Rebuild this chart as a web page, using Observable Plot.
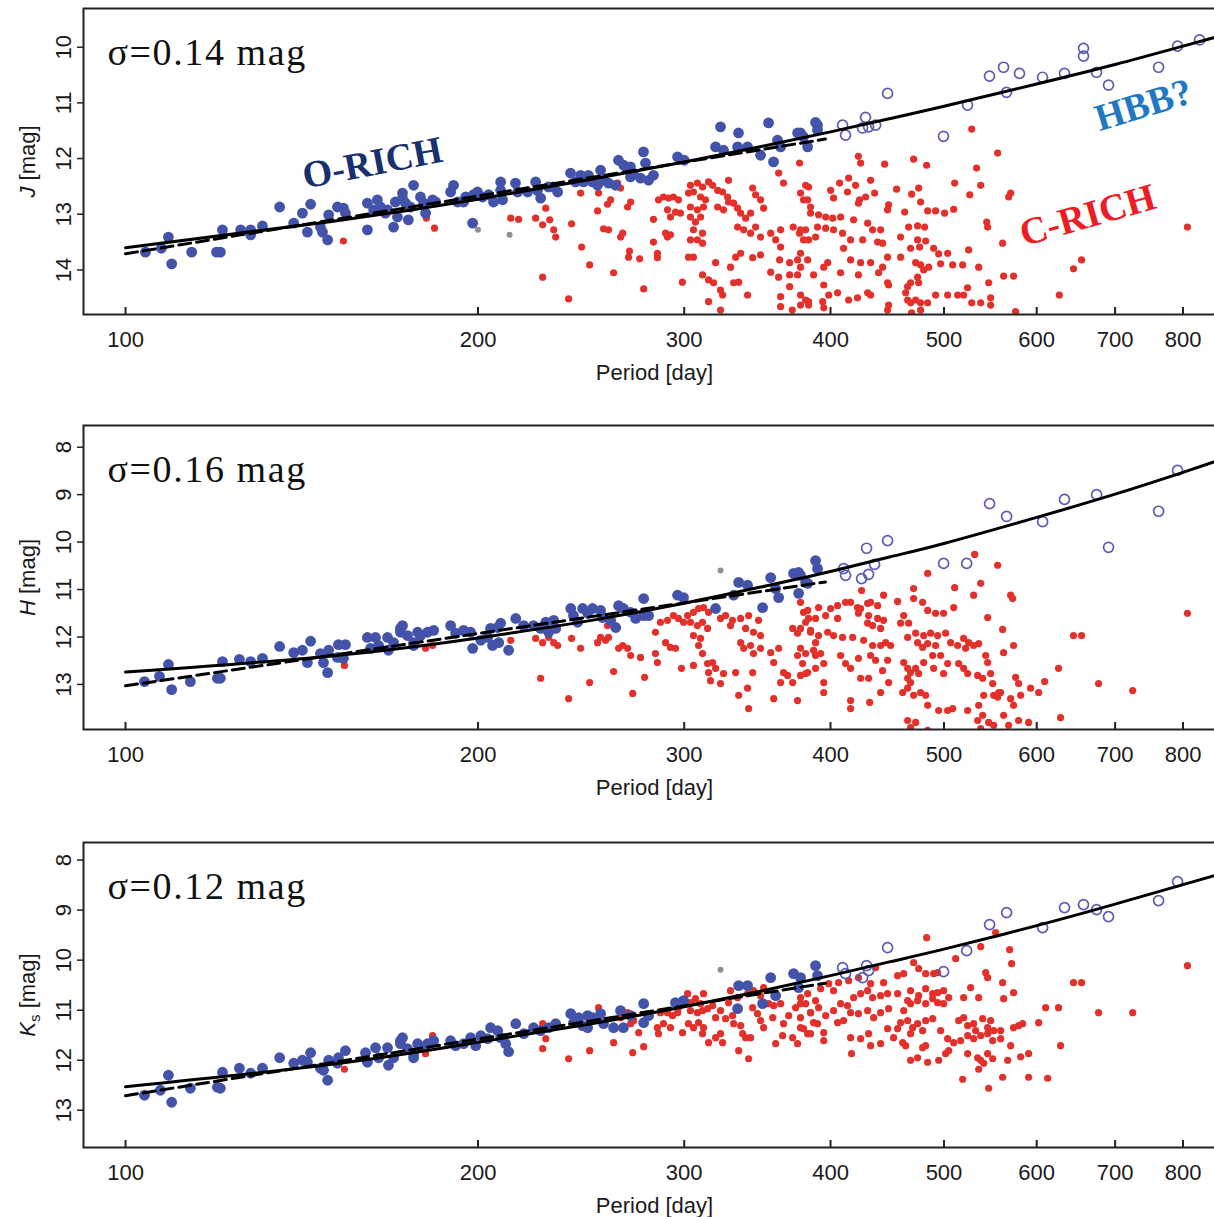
<!DOCTYPE html>
<html>
<head>
<meta charset="utf-8">
<script src="https://cdn.jsdelivr.net/npm/d3@7"></script>
<script src="https://cdn.jsdelivr.net/npm/@observablehq/plot@0.6"></script>
<style>
  html, body { margin: 0; padding: 0; background: #fff; overflow: hidden; }
  svg { display: block; max-width: none !important; }
</style>
</head>
<body>
<div id="chart"></div>
<script>
// ---------- axis / label data ----------
const xTicks = [100, 200, 300, 400, 500, 600, 700, 800];
const jTicks = [10, 11, 12, 13, 14];
const hTicks = [8, 9, 10, 11, 12, 13];
const kTicks = [8, 9, 10, 11, 12, 13];
const xLabel = "Period [day]";
const yLabels = ["J [mag]", "H [mag]", "Ks [mag]"];
const sigmaLabels = ["σ=0.14 mag", "σ=0.16 mag", "σ=0.12 mag"];

// annotations (panel J)
const noteText = ["O-RICH", "HBB?", "C-RICH"];
const notePeriod = [162.5, 740, 663];
const noteMag = [12.08, 11.04, 13.02];
const noteColor = ["#17306e", "#1f78c4", "#ee1c25"];
const noteAngle = [-11, -17, -16];

// fit curves
const fitPeriods = [100, 150, 200, 250, 300, 350, 400, 450, 500, 600, 700, 800, 860];
const fitJ = [13.60, 13.13, 12.73, 12.37, 12.06, 11.78, 11.52, 11.28, 11.06, 10.66, 10.31, 9.98, 9.80];
const fitH = [12.74, 12.40, 12.02, 11.65, 11.29, 10.94, 10.62, 10.31, 10.03, 9.48, 8.99, 8.53, 8.27];
const fitK = [12.53, 12.08, 11.64, 11.27, 10.93, 10.61, 10.31, 10.03, 9.78, 9.31, 8.88, 8.49, 8.28];
const dashPeriods = [100, 396];
const dashJ = [13.71, 11.65];
const dashH = [13.03, 10.84];
const dashK = [12.71, 10.46];

// ---------- J band ----------
const oRichJ = [[104.0,13.68],[107.3,13.61],[108.8,13.41],[109.5,13.89],[113.9,13.68],[119.6,13.68],[120.5,13.68],[121.0,13.28],[125.4,13.28],[127.9,13.28],[127.9,13.37],[130.9,13.21],[135.4,12.87],[139.2,13.16],[141.6,12.98],[143.9,12.82],[143.0,13.32],[146.7,13.23],[147.3,13.32],[148.8,13.46],[149.1,13.01],[151.7,12.87],[153.5,12.89],[154.1,12.98],[160.9,12.80],[160.9,13.28],[164.1,12.74],[165.1,12.87],[167.4,12.92],[169.4,13.23],[170.7,13.05],[172.4,12.62],[173.4,12.80],[174.4,13.10],[176.2,12.48],[162.9,12.92],[166.7,12.98],[170.0,12.78],[172.4,12.71],[178.6,12.69],[179.7,12.80],[184.0,12.78],[189.5,12.60],[190.6,12.48],[192.1,12.78],[194.4,12.78],[197.9,13.16],[198.2,12.65],[175.1,12.87],[180.4,12.98],[182.9,12.74],[195.2,12.69],[199.8,12.60],[201.8,12.69],[204.2,12.65],[206.2,12.78],[209.1,12.42],[209.1,12.57],[209.9,12.74],[215.3,12.44],[216.2,12.60],[220.5,12.60],[224.0,12.42],[224.8,12.57],[226.2,12.71],[229.7,12.51],[232.0,12.51],[233.9,12.60],[239.9,12.26],[242.3,12.42],[244.7,12.30],[246.1,12.42],[248.5,12.30],[250.5,12.42],[253.0,12.48],[254.5,12.21],[256.0,12.39],[258.5,12.44],[262.1,12.48],[263.6,12.03],[266.3,12.12],[269.9,12.15],[271.5,12.26],[269.9,12.33],[275.3,12.35],[276.9,11.88],[278.0,12.08],[279.7,12.39],[282.4,12.30],[296.1,11.97],[300.0,12.03],[322.2,11.43],[319.1,11.79],[324.1,11.85],[333.2,11.79],[333.8,11.54],[339.8,11.79],[348.6,11.94],[354.1,11.36],[357.6,12.06],[360.4,11.67],[362.6,11.79],[374.9,11.54],[379.3,11.61],[382.4,11.79],[388.4,11.35],[389.9,11.49],[377.1,11.54],[389.9,11.40]];
const hbbJ = [[409.6,11.40],[412.0,11.58],[426.0,11.45],[428.5,11.26],[431.1,11.43],[437.1,11.40],[447.5,10.83],[499.5,11.60],[523.7,11.04],[546.8,10.52],[562.1,10.36],[565.4,10.81],[580.0,10.47],[606.9,10.54],[633.7,10.47],[657.8,10.02],[657.8,10.16],[674.9,10.45],[691.0,10.68],[762.5,10.36],[791.5,9.98],[826.4,9.87]];
const otherJ = [[200.0,13.28],[212.8,13.37]];
const cRichJ = [[153.5,13.48],[180.7,13.07],[183.6,13.25],[213.3,13.07],[216.6,13.09],[224.0,13.07],[227.1,13.19],[228.5,12.89],[230.3,13.10],[232.1,13.28],[233.0,13.41],[240.4,13.17],[244.7,12.62],[245.2,13.59],[249.1,13.91],[227.1,14.13],[239.0,14.52],[253.0,12.94],[253.5,12.62],[256.0,13.26],[258.5,13.28],[258.0,12.82],[259.6,12.74],[261.1,14.05],[263.2,12.44],[264.7,12.53],[264.7,13.41],[265.8,13.34],[268.4,12.87],[270.0,12.78],[269.4,13.66],[268.9,13.77],[274.8,13.80],[277.0,14.34],[282.4,13.09],[282.4,13.50],[284.6,13.70],[284.6,13.78],[285.2,12.74],[288.0,12.69],[290.9,12.71],[293.7,12.69],[296.6,12.74],[290.3,12.92],[292.0,13.05],[294.9,12.96],[297.8,12.98],[289.2,13.34],[290.3,13.41],[292.0,13.37],[298.9,14.22],[303.7,12.48],[307.9,12.44],[311.0,12.51],[314.7,12.42],[302.5,12.62],[305.5,12.60],[309.8,12.69],[312.8,12.74],[303.7,12.87],[307.9,12.92],[311.6,12.87],[303.7,13.05],[306.7,13.14],[309.8,13.05],[305.5,13.28],[311.0,13.34],[303.7,13.46],[307.9,13.46],[311.0,13.52],[302.5,13.77],[305.5,13.77],[311.0,14.09],[314.7,14.18],[317.8,14.23],[314.7,14.57],[319.1,13.87],[322.2,14.72],[317.2,12.48],[320.4,12.57],[323.5,12.60],[326.7,12.69],[320.4,12.87],[324.1,12.92],[327.3,12.78],[330.6,12.80],[327.3,12.39],[333.2,12.89],[335.2,12.98],[338.5,13.07],[341.8,12.98],[343.2,12.53],[345.2,12.65],[348.6,12.74],[350.7,12.89],[333.2,13.23],[337.2,13.28],[341.8,13.34],[345.2,13.23],[348.6,13.41],[328.6,13.95],[331.9,13.77],[335.2,13.70],[343.2,13.78],[348.6,13.73],[330.6,14.23],[333.9,14.22],[339.8,14.45],[355.6,13.34],[359.1,13.46],[362.6,13.59],[362.6,13.28],[361.2,12.26],[364.7,12.44],[376.4,12.08],[377.1,12.62],[379.3,12.74],[383.1,12.51],[384.6,12.87],[371.7,13.23],[376.4,13.34],[380.9,13.28],[383.1,13.46],[388.4,13.41],[361.9,13.82],[369.1,13.87],[374.9,13.82],[377.1,13.95],[355.6,14.04],[361.2,14.13],[369.1,14.09],[374.9,14.09],[362.6,14.48],[369.1,14.30],[377.1,14.45],[383.1,14.57],[362.6,14.66],[371.0,14.72],[377.1,14.63],[322.2,14.36],[323.5,14.45],[528.0,11.47],[555.6,11.90],[422.5,11.96],[424.4,12.08],[444.9,12.10],[471.0,12.01],[483.2,12.12],[533.1,12.17],[510.6,12.44],[537.4,12.48],[526.0,12.65],[570.0,12.62],[567.8,12.69],[380.9,12.48],[382.4,12.74],[400.1,12.57],[402.4,12.71],[407.2,12.44],[414.5,12.35],[420.2,12.48],[413.6,12.60],[423.5,12.74],[428.6,12.69],[432.8,12.39],[436.2,12.62],[455.5,12.55],[469.2,12.64],[475.7,12.53],[448.4,12.83],[447.5,12.92],[462.8,12.96],[477.5,12.78],[484.2,12.94],[491.8,12.94],[500.6,12.98],[509.6,12.91],[384.6,12.98],[390.7,13.01],[396.2,13.05],[401.7,13.07],[408.0,13.05],[377.1,13.28],[379.3,13.46],[389.9,13.23],[396.2,13.25],[402.4,13.28],[422.6,12.80],[430.3,13.16],[434.5,13.28],[438.8,13.50],[418.6,13.10],[426.1,13.46],[409.6,13.34],[416.1,13.46],[410.4,13.61],[441.4,13.28],[443.1,13.52],[459.1,13.41],[466.4,13.23],[474.7,13.21],[481.3,13.23],[474.7,13.46],[482.3,13.48],[476.6,13.59],[468.2,13.61],[489.9,13.61],[494.8,13.71],[447.5,13.77],[443.1,13.95],[459.1,13.77],[472.9,13.87],[477.5,13.91],[480.4,14.00],[474.7,14.13],[485.2,13.95],[496.7,13.89],[503.6,13.70],[508.6,13.91],[518.7,13.91],[524.8,13.64],[535.3,13.95],[543.8,13.14],[544.8,13.23],[561.1,13.52],[377.1,13.70],[382.4,13.82],[394.7,13.95],[397.8,13.87],[386.9,14.09],[394.7,14.27],[408.0,14.05],[416.1,13.82],[422.6,14.09],[424.4,13.87],[432.8,13.87],[439.6,14.05],[447.5,14.23],[448.4,14.27],[398.6,14.45],[405.6,14.41],[414.5,14.54],[421.8,14.50],[430.3,14.41],[432.8,14.45],[380.9,14.54],[383.1,14.63],[393.9,14.57],[394.7,14.68],[448.4,14.63],[447.5,14.72],[463.7,14.41],[465.5,14.54],[468.2,14.59],[472.9,14.54],[477.5,14.59],[465.5,14.30],[468.2,14.23],[475.7,14.23],[484.2,14.59],[491.8,14.45],[503.6,14.45],[513.6,14.45],[519.7,14.45],[523.7,14.32],[528.0,14.59],[537.4,14.59],[548.0,14.50],[548.0,14.63],[545.9,14.23],[562.2,14.11],[573.3,14.11],[575.6,14.75],[627.3,14.45],[645.0,13.98],[655.3,13.82],[807.0,13.23],[469.1,14.77],[477.5,14.72]];

// ---------- H band ----------
const oRichH = [[103.8,12.94],[106.9,12.83],[108.8,12.58],[109.5,13.11],[113.6,12.94],[119.8,12.87],[120.5,12.87],[121.0,12.52],[125.1,12.47],[127.9,12.52],[130.9,12.45],[135.4,12.20],[139.2,12.33],[141.6,12.28],[143.9,12.09],[143.0,12.54],[146.7,12.35],[147.6,12.54],[148.8,12.75],[149.1,12.28],[152.0,12.16],[154.1,12.16],[151.7,12.43],[153.5,12.45],[160.9,12.01],[161.9,12.24],[163.5,12.01],[164.5,12.18],[167.4,12.01],[167.7,12.28],[169.4,12.12],[171.7,11.90],[172.4,11.76],[174.1,11.97],[176.2,12.12],[177.6,11.90],[171.7,11.82],[178.6,11.97],[181.1,11.90],[183.3,11.86],[176.2,12.18],[189.5,11.76],[191.4,11.92],[194.4,11.86],[197.1,11.90],[197.9,12.24],[201.1,12.07],[203.8,12.01],[205.0,11.82],[207.9,11.80],[209.1,11.71],[205.8,12.18],[208.3,12.12],[212.4,12.28],[215.4,11.61],[218.8,11.76],[223.1,11.76],[226.2,11.82],[228.5,11.69],[229.8,11.90],[232.1,11.65],[233.0,11.82],[240.0,11.40],[241.3,11.55],[243.3,11.69],[245.7,11.40],[248.1,11.50],[250.5,11.40],[254.5,11.44],[255.5,11.59],[259.6,11.65],[262.2,11.80],[263.7,11.34],[266.2,11.40],[270.0,11.48],[272.7,11.61],[277.0,11.55],[279.7,11.55],[277.0,11.19],[296.1,11.12],[299.6,11.17],[319.1,11.40],[333.9,10.85],[339.8,10.91],[330.6,11.12],[350.0,11.38],[355.6,10.75],[359.1,10.98],[361.2,11.17],[372.0,10.66],[375.7,10.64],[375.7,11.08],[380.9,10.85],[388.4,10.39],[389.9,10.56],[377.1,10.70],[382.4,10.87]];
const hbbH = [[410.4,10.56],[412.0,10.70],[425.2,10.77],[429.4,10.13],[431.1,10.68],[436.2,10.47],[447.5,9.97],[499.6,10.45],[522.8,10.45],[546.9,9.19],[565.5,9.46],[607.0,9.57],[633.7,9.10],[675.0,9.00],[691.0,10.11],[762.5,9.35],[791.5,8.49]];
const otherH = [[322.2,10.60]];
const cRichH = [[153.8,12.60],[180.4,12.24],[182.9,12.18],[213.3,12.07],[224.0,12.03],[227.1,12.12],[229.8,12.01],[232.1,12.12],[233.9,12.18],[226.2,12.87],[239.0,13.30],[240.4,12.03],[244.7,12.24],[249.1,12.96],[253.0,12.12],[254.5,12.01],[257.0,12.07],[258.5,12.01],[258.0,11.76],[261.1,12.73],[263.7,12.24],[265.8,12.18],[268.4,12.24],[270.0,12.39],[271.1,13.19],[275.3,12.43],[277.5,12.85],[283.5,11.90],[284.6,12.54],[283.5,12.35],[286.3,11.69],[290.3,11.65],[293.7,11.55],[296.6,11.61],[299.6,11.69],[289.2,12.12],[292.0,12.22],[294.9,12.24],[298.4,12.66],[302.0,11.55],[305.5,11.48],[308.6,11.40],[311.6,11.38],[314.7,11.48],[303.7,11.69],[307.9,11.76],[311.0,11.69],[314.1,11.82],[305.5,11.97],[309.8,12.03],[308.6,12.18],[311.0,12.35],[305.5,12.60],[314.1,12.56],[317.2,12.54],[314.7,12.75],[315.9,12.92],[322.2,12.98],[319.1,12.66],[324.1,12.77],[322.2,11.61],[325.4,11.55],[328.6,11.76],[329.9,11.65],[331.9,12.75],[333.9,13.23],[340.5,13.51],[339.8,13.08],[343.2,12.75],[335.2,11.61],[338.5,11.82],[340.5,11.55],[343.8,11.90],[347.2,11.65],[348.6,11.97],[335.2,12.12],[337.2,12.24],[341.8,12.18],[343.8,12.35],[348.6,12.24],[355.6,12.33],[357.7,12.54],[361.2,12.24],[364.7,12.75],[367.6,12.81],[357.7,13.30],[374.9,13.34],[362.6,12.96],[371.3,12.96],[377.1,12.81],[371.3,11.82],[374.9,11.92],[379.3,11.48],[383.1,11.61],[384.6,11.86],[388.4,12.12],[388.4,12.39],[374.9,12.39],[378.6,12.56],[382.4,12.75],[531.1,10.26],[555.6,10.49],[484.2,10.66],[510.6,10.96],[530.0,11.12],[537.4,10.87],[570.0,11.12],[572.2,11.19],[425.2,11.02],[444.0,11.12],[471.0,10.98],[456.4,11.25],[471.0,11.19],[479.4,11.27],[544.8,11.59],[561.1,11.84],[509.6,11.38],[484.2,11.44],[491.8,11.50],[499.6,11.50],[573.3,12.18],[562.2,12.33],[377.1,11.27],[382.4,11.44],[390.7,11.38],[400.1,11.40],[405.6,11.34],[412.0,11.27],[416.1,11.27],[421.8,11.38],[430.3,11.29],[432.8,11.27],[438.8,11.34],[380.9,11.69],[388.4,11.61],[396.2,11.55],[405.6,11.61],[424.4,11.40],[422.6,11.50],[431.1,11.55],[438.8,11.61],[430.3,11.71],[434.5,11.76],[441.4,11.82],[444.0,11.65],[459.1,11.71],[466.4,11.71],[461.9,11.55],[377.1,11.82],[384.6,11.90],[390.7,11.97],[397.8,11.90],[402.4,11.97],[409.6,12.01],[417.8,12.01],[426.9,12.07],[434.5,12.18],[441.4,12.18],[445.8,12.12],[450.2,12.18],[465.5,12.01],[472.9,11.92],[480.4,11.97],[487.0,11.92],[493.8,11.97],[501.6,11.92],[474.7,12.12],[479.4,12.22],[484.2,12.14],[491.8,12.18],[506.6,12.12],[513.6,12.18],[519.7,12.03],[524.8,12.12],[530.0,12.18],[535.3,12.14],[542.7,12.39],[544.8,12.54],[521.7,12.24],[377.1,12.24],[380.9,12.35],[386.9,12.28],[392.3,12.35],[394.7,12.56],[388.4,12.66],[380.9,12.77],[408.0,12.39],[412.0,12.56],[416.1,12.66],[422.6,12.45],[424.4,12.87],[431.1,12.87],[432.8,12.39],[437.1,12.49],[443.1,12.71],[447.5,12.49],[448.4,12.96],[441.4,13.17],[461.9,12.54],[465.5,12.66],[468.2,12.75],[472.9,12.66],[465.5,12.87],[468.2,12.96],[461.0,13.17],[465.5,13.08],[471.0,13.23],[477.5,13.17],[482.3,13.23],[484.2,13.44],[475.7,12.77],[480.4,12.54],[489.0,12.39],[496.7,12.39],[503.6,12.56],[489.9,12.66],[499.6,12.77],[514.6,12.56],[519.7,12.66],[523.8,12.77],[534.2,12.81],[539.5,12.87],[548.0,12.77],[550.2,12.98],[558.9,13.17],[555.6,13.27],[570.0,13.30],[575.6,12.85],[579.0,12.98],[581.3,13.23],[592.8,13.08],[602.3,13.17],[609.4,12.94],[626.3,12.66],[645.0,11.97],[655.3,11.97],[677.6,12.98],[724.6,13.13],[807.0,11.50],[628.8,13.70],[394.7,12.96],[394.7,13.17],[416.1,13.34],[416.1,13.51],[432.0,13.38],[465.5,13.76],[472.9,13.80],[468.2,13.91],[484.2,13.97],[494.8,13.55],[503.6,13.55],[508.6,13.51],[523.8,13.55],[535.3,13.44],[539.5,13.65],[540.6,13.23],[551.3,13.23],[556.7,13.17],[545.9,13.80],[551.3,13.86],[562.2,13.65],[567.8,13.86],[579.0,13.76],[590.5,13.80],[534.2,13.76],[537.4,13.93],[573.3,13.44]];

// ---------- Ks band ----------
const oRichK = [[103.8,12.70],[107.1,12.60],[108.8,12.30],[109.5,12.84],[113.6,12.56],[119.8,12.54],[120.5,12.56],[121.0,12.24],[125.1,12.16],[127.9,12.26],[130.9,12.16],[135.4,11.95],[139.2,12.06],[141.6,12.00],[143.9,11.85],[143.0,12.04],[146.7,12.16],[147.6,12.20],[148.8,12.40],[149.1,12.00],[152.0,11.95],[154.1,11.81],[151.7,12.06],[160.3,11.85],[160.9,12.04],[163.5,11.75],[164.5,11.95],[167.4,11.75],[167.7,12.10],[169.4,11.95],[171.7,11.61],[172.4,11.55],[174.1,11.77],[176.2,11.87],[177.6,11.67],[171.7,11.67],[176.2,11.95],[178.6,11.75],[181.1,11.67],[183.3,11.61],[189.5,11.61],[191.4,11.71],[194.4,11.67],[197.1,11.55],[199.1,11.71],[201.1,11.51],[203.8,11.57],[205.0,11.35],[207.9,11.41],[209.1,11.55],[211.2,11.67],[212.4,11.83],[215.4,11.27],[218.8,11.47],[223.1,11.35],[226.2,11.41],[229.8,11.35],[233.0,11.27],[240.0,11.07],[241.3,11.25],[243.8,11.15],[245.7,11.31],[248.1,11.11],[250.5,11.15],[248.1,11.35],[254.5,11.07],[256.0,11.27],[261.1,11.35],[264.7,11.01],[266.2,11.35],[270.0,11.11],[277.0,10.87],[279.7,11.11],[277.0,11.25],[294.9,10.85],[299.6,10.81],[333.2,10.97],[333.9,10.51],[339.8,10.51],[350.0,10.87],[355.6,10.35],[359.1,10.71],[372.0,10.27],[377.1,10.35],[375.7,10.55],[388.4,10.11],[389.9,10.31]];
const hbbK = [[409.6,10.15],[412.0,10.27],[426.1,10.35],[429.4,10.11],[431.1,10.21],[447.5,9.75],[499.6,10.23],[522.8,9.81],[546.9,9.29],[565.5,9.05],[607.0,9.35],[633.7,8.95],[657.8,8.89],[675.0,8.99],[691.0,9.13],[762.5,8.81],[791.5,8.43]];
const otherK = [[322.2,10.19]];
const cRichK = [[153.8,12.18],[182.9,11.51],[180.4,11.87],[227.1,11.27],[228.5,11.57],[227.1,11.77],[239.0,11.97],[249.1,11.81],[253.5,10.95],[261.1,11.65],[264.7,11.15],[268.4,11.05],[270.0,11.27],[271.6,11.21],[274.3,11.45],[271.1,11.85],[277.0,11.73],[284.6,11.35],[285.2,11.47],[286.3,11.05],[290.3,11.05],[293.2,11.11],[296.1,11.05],[296.6,10.95],[288.0,11.27],[292.0,11.35],[299.0,11.45],[302.0,10.67],[303.7,10.85],[306.7,10.77],[309.8,10.87],[311.6,10.67],[302.5,11.27],[305.5,11.35],[308.6,11.25],[311.6,11.35],[303.7,11.01],[307.9,11.05],[311.0,11.01],[314.1,10.97],[317.2,10.91],[311.0,11.47],[314.7,11.65],[319.1,11.55],[322.2,11.47],[323.5,11.65],[319.1,11.15],[322.2,11.01],[325.4,11.17],[327.3,10.85],[329.9,11.11],[330.6,11.27],[335.2,11.31],[336.5,11.47],[338.5,11.55],[341.8,11.55],[333.9,11.81],[340.5,11.97],[328.6,10.61],[333.2,10.75],[339.8,10.67],[343.8,10.61],[348.6,10.71],[350.7,10.55],[343.2,10.95],[346.5,11.07],[348.6,11.21],[350.7,11.35],[354.2,10.87],[357.0,11.15],[359.1,11.67],[364.0,11.51],[364.7,11.27],[368.4,11.11],[371.3,11.55],[374.9,11.67],[373.5,10.95],[377.1,10.75],[380.9,10.87],[384.6,11.05],[386.9,11.25],[379.3,11.37],[384.6,11.47],[357.7,10.91],[362.6,10.87],[483.2,9.55],[511.6,9.97],[537.4,9.73],[568.9,9.79],[571.1,10.07],[553.4,9.45],[377.1,10.87],[382.4,10.67],[388.4,10.81],[392.3,10.57],[398.6,10.47],[402.4,10.61],[406.4,10.45],[414.5,10.41],[422.6,10.35],[432.8,10.47],[437.1,10.15],[444.0,10.45],[377.1,11.15],[384.6,11.05],[390.7,10.95],[396.2,11.11],[402.4,11.01],[408.0,10.87],[413.6,10.91],[418.6,10.75],[424.4,10.67],[430.3,10.61],[434.5,10.75],[441.4,10.71],[447.5,10.67],[456.4,10.31],[461.9,10.27],[471.0,10.05],[475.7,10.17],[482.3,10.27],[489.9,10.27],[493.8,10.25],[456.4,10.67],[465.5,10.81],[468.2,10.61],[475.7,10.71],[482.3,10.57],[489.0,10.67],[493.8,10.65],[499.6,10.61],[504.6,10.75],[377.1,11.35],[382.4,11.47],[389.9,11.27],[394.7,11.45],[405.6,11.25],[410.4,11.21],[416.1,11.05],[422.6,11.07],[430.3,11.01],[435.4,11.15],[441.4,11.05],[448.4,10.97],[461.9,11.01],[468.2,10.87],[474.7,10.81],[482.3,10.87],[489.0,10.77],[493.8,10.85],[499.6,10.87],[459.1,11.25],[465.5,11.21],[470.1,11.35],[474.7,11.27],[479.4,11.41],[482.3,11.21],[489.0,11.17],[394.7,11.61],[416.1,11.55],[424.4,11.57],[431.1,11.47],[432.8,11.71],[441.4,11.67],[447.5,11.37],[456.4,11.37],[452.8,11.55],[461.0,11.65],[463.7,11.71],[468.2,11.47],[416.9,11.87],[468.2,12.00],[474.7,11.95],[484.2,12.04],[479.4,11.75],[482.3,11.71],[496.7,11.41],[503.6,11.57],[509.6,11.65],[516.6,11.61],[504.6,11.81],[501.6,11.87],[494.8,12.00],[514.6,11.21],[519.7,11.15],[523.8,11.31],[530.0,11.27],[532.1,11.41],[539.5,11.17],[544.8,11.35],[548.0,11.21],[551.3,11.41],[558.9,11.41],[519.7,10.75],[526.9,10.55],[535.3,10.75],[542.7,10.25],[544.8,10.35],[561.1,10.45],[562.2,10.77],[573.3,10.65],[523.8,11.51],[530.0,11.57],[537.4,11.51],[544.8,11.47],[550.2,11.61],[558.9,11.57],[570.0,11.71],[573.3,11.35],[579.0,11.31],[583.6,11.27],[602.3,11.25],[523.8,11.87],[534.2,11.95],[537.4,12.00],[544.8,11.87],[550.2,11.97],[566.7,12.00],[581.3,11.93],[590.5,11.87],[535.3,12.18],[540.6,12.06],[518.7,12.38],[545.9,12.56],[561.1,12.34],[590.5,12.34],[613.0,12.36],[610.6,10.95],[626.3,10.95],[628.8,11.71],[677.6,11.05],[724.6,11.05],[645.0,10.45],[655.3,10.45],[807.0,10.11]];

// ---------- drawing ----------
const BLUE = "#4353a9", RED = "#e4302b", OPEN = "#5b5bb3", GREY = "#8f8f8f";
const AXIS_FONT = "'Liberation Sans', Arial, Helvetica, sans-serif";
const SERIF = "'Liberation Serif', 'Times New Roman', serif";

const panels = [
  {height: 415, marginTop: 8, marginBottom: 101, yDomain: [14.80, 9.305], yTicks: jTicks,
   oRich: oRichJ, cRich: cRichJ, hbb: hbbJ, other: otherJ, fit: fitJ, dash: dashJ, i: 0, notes: true},
  {height: 417, marginTop: 10, marginBottom: 103, yDomain: [13.95, 7.543], yTicks: hTicks,
   oRich: oRichH, cRich: cRichH, hbb: hbbH, other: otherH, fit: fitH, dash: dashH, i: 1, notes: false},
  {height: 385, marginTop: 10, marginBottom: 70, yDomain: [13.744, 7.649], yTicks: kTicks,
   oRich: oRichK, cRich: cRichK, hbb: hbbK, other: otherK, fit: fitK, dash: dashK, i: 2, notes: false}
];

const pt = d => ({p: d[0], m: d[1]});

function makePanel(cfg) {
  const frameH = cfg.height - cfg.marginTop - cfg.marginBottom;
  const fitRows = fitPeriods.map((p, i) => ({p, m: cfg.fit[i]}));
  const dashRows = dashPeriods.map((p, i) => ({p, m: cfg.dash[i]}));
  const axisText = {fontSize: 22, fill: "#1a1a1a", textAnchor: "middle", lineAnchor: "middle"};
  const marks = [
    Plot.dot(cfg.cRich.map(pt), {x: "p", y: "m", r: 3.6, fill: RED, clip: true}),
    Plot.dot(cfg.other.map(pt), {x: "p", y: "m", r: 3, fill: GREY, clip: true}),
    Plot.dot(cfg.oRich.map(pt), {x: "p", y: "m", r: 5.4, fill: BLUE, clip: true}),
    Plot.dot(cfg.hbb.map(pt), {x: "p", y: "m", r: 5, stroke: OPEN, strokeWidth: 1.7, fill: "none", clip: true}),
    Plot.line(fitRows, {x: "p", y: "m", stroke: "#000", strokeWidth: 3, curve: "natural", clip: true}),
    Plot.line(dashRows, {x: "p", y: "m", stroke: "#000", strokeWidth: 3, strokeDasharray: "12,6", clip: true}),
    Plot.frame({stroke: "#222", strokeWidth: 2}),
    Plot.axisY({ticks: cfg.yTicks, tickSize: 6, tickFormat: () => "", label: null, stroke: "#222", strokeWidth: 1.5}),
    Plot.ruleX(xTicks, {stroke: "#222", strokeWidth: 2, insetTop: frameH - 7}),
    Plot.text(xTicks, {x: d => d, text: d => String(d), frameAnchor: "bottom", dy: 25, ...axisText}),
    Plot.text([xLabel], {text: d => d, frameAnchor: "bottom", dy: 58, dx: 3, ...axisText}),
    Plot.text(cfg.yTicks, {y: d => d, text: d => String(d), frameAnchor: "left", dx: -20, rotate: -90, ...axisText}),
    Plot.text([yLabels[cfg.i]], {text: d => d, frameAnchor: "left", dx: -56, rotate: -90, ...axisText}),
    Plot.text([sigmaLabels[cfg.i]], {text: d => d, frameAnchor: "top-left", dx: 24, dy: 44, textAnchor: "start",
      lineAnchor: "middle", fontSize: 38, fontFamily: SERIF, fill: "#111"})
  ];
  if (cfg.notes) {
    const rows = noteText.map((t, i) => ({t, p: notePeriod[i], m: noteMag[i], c: noteColor[i], a: noteAngle[i]}));
    marks.push(Plot.text(rows, {x: "p", y: "m", text: "t", fill: "c", rotate: "a", fontSize: 38,
      fontWeight: "bold", fontFamily: SERIF}));
  }
  const svg = Plot.plot({
    width: 1220, height: cfg.height,
    marginLeft: 83, marginRight: 1, marginTop: cfg.marginTop, marginBottom: cfg.marginBottom,
    style: {fontFamily: AXIS_FONT, background: "#fff", color: "#222", maxWidth: "none"},
    x: {type: "log", domain: [92.07, 859.5], axis: null},
    y: {domain: cfg.yDomain},
    color: {type: "identity"},
    marks
  });
  svg.style.maxWidth = "none";
  svg.querySelectorAll("text").forEach(t => {
    const s = t.textContent;
    if (s === "J [mag]") t.innerHTML = '<tspan font-style="italic">J</tspan> [mag]';
    else if (s === "H [mag]") t.innerHTML = '<tspan font-style="italic">H</tspan> [mag]';
    else if (s === "Ks [mag]") t.innerHTML = '<tspan font-style="italic">K</tspan><tspan dy="5" font-size="15">s</tspan><tspan dy="-5"> [mag]</tspan>';
    else if (s.startsWith("σ=")) t.setAttribute("letter-spacing", "1.6");
  });
  return svg;
}

const root = document.getElementById("chart");
panels.forEach(cfg => root.appendChild(makePanel(cfg)));
</script>
</body>
</html>
